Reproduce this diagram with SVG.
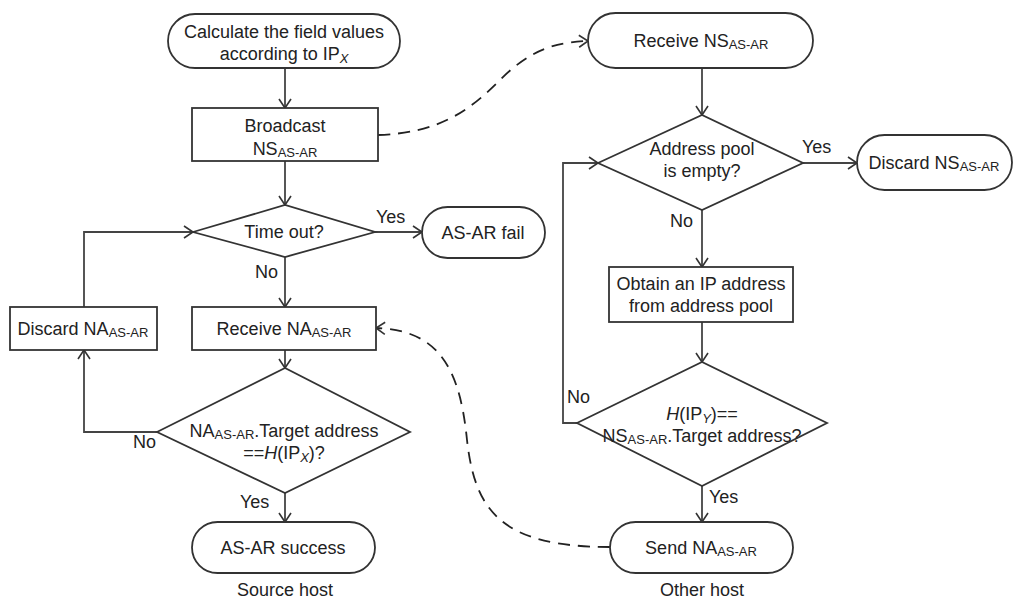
<svg xmlns="http://www.w3.org/2000/svg" width="1016" height="601" viewBox="0 0 1016 601">
<defs>
<marker id="arr" markerUnits="userSpaceOnUse" markerWidth="12" markerHeight="14" refX="10" refY="7" orient="auto">
<path d="M1,1 L10,7 L1,13" fill="none" stroke="#333" stroke-width="1.6"/>
</marker>
<style>
.s{fill:#fff;stroke:#333;stroke-width:1.8}
.c{fill:none;stroke:#444;stroke-width:1.8}
.d{fill:none;stroke:#222;stroke-width:1.8;stroke-dasharray:12,8}
text{font-family:"Liberation Sans",Arial,sans-serif;font-size:18px;fill:#222}
.m{text-anchor:middle}
.sub{font-size:13px}
</style>
</defs>
<rect width="1016" height="601" fill="#fff"/>
<g id="connectors">
<path class="c" d="M285,68 V108" marker-end="url(#arr)"/>
<path class="c" d="M285,161 V205" marker-end="url(#arr)"/>
<path class="c" d="M375,232 H422" marker-end="url(#arr)"/>
<path class="c" d="M285,257 V307" marker-end="url(#arr)"/>
<path class="c" d="M285,350 V368" marker-end="url(#arr)"/>
<path class="c" d="M157,432 H84 V350" marker-end="url(#arr)"/>
<path class="c" d="M84,307 V232 H193" marker-end="url(#arr)"/>
<path class="c" d="M285,493 V522" marker-end="url(#arr)"/>
<path class="c" d="M702,68 V115" marker-end="url(#arr)"/>
<path class="c" d="M803,163 H857" marker-end="url(#arr)"/>
<path class="c" d="M702,210 V267" marker-end="url(#arr)"/>
<path class="c" d="M702,322 V362" marker-end="url(#arr)"/>
<path class="c" d="M577,423 H563 V163 H598" marker-end="url(#arr)"/>
<path class="c" d="M702,486 V522" marker-end="url(#arr)"/>
<path class="d" d="M378,135 C440,133 470,110 500,80 C530,50 555,42 588,41" marker-end="url(#arr)"/>
<path class="d" d="M610,547 C500,547 475,510 467,440 C460,370 440,330 376,328" marker-end="url(#arr)"/>
</g>
<g id="start">
<rect class="s" x="168" y="14" width="232" height="54" rx="27"/>
<text class="m" x="284" y="38">Calculate the field values</text>
<text class="m" x="284" y="60">according to IP<tspan class="sub" font-style="italic" dy="3">X</tspan></text>
</g>
<g id="broadcast">
<rect class="s" x="192" y="108" width="186" height="53"/>
<text class="m" x="285" y="132">Broadcast</text>
<text class="m" x="285" y="155">NS<tspan class="sub" dy="2">AS-AR</tspan></text>
</g>
<g id="timeout">
<polygon class="s" points="193,232 285,205 375,232 285,257"/>
<text class="m" x="284" y="238">Time out?</text>
</g>
<g id="fail">
<rect class="s" x="422" y="207" width="123" height="51" rx="25.5"/>
<text class="m" x="483" y="239">AS-AR fail</text>
</g>
<g id="receiveNA">
<rect class="s" x="192" y="307" width="184" height="43"/>
<text class="m" x="284" y="335">Receive NA<tspan class="sub" dy="2">AS-AR</tspan></text>
</g>
<g id="discardNA">
<rect class="s" x="10" y="307" width="147" height="43"/>
<text class="m" x="83" y="335">Discard NA<tspan class="sub" dy="2">AS-AR</tspan></text>
</g>
<g id="check1">
<polygon class="s" points="157,432 285,368 410,432 285,493"/>
<text class="m" x="284" y="437">NA<tspan class="sub" dy="2">AS-AR</tspan><tspan dy="-2">.Target address</tspan></text>
<text class="m" x="284" y="459">==<tspan font-style="italic">H</tspan>(IP<tspan class="sub" font-style="italic" dy="3">X</tspan><tspan dy="-3">)?</tspan></text>
</g>
<g id="success">
<rect class="s" x="192" y="522" width="183" height="51" rx="25.5"/>
<text class="m" x="283" y="554">AS-AR success</text>
</g>
<g id="receiveNS">
<rect class="s" x="588" y="13" width="225" height="55" rx="27.5"/>
<text class="m" x="701" y="47">Receive NS<tspan class="sub" dy="2">AS-AR</tspan></text>
</g>
<g id="pool">
<polygon class="s" points="598,163 702,115 803,163 702,210"/>
<text class="m" x="702" y="155">Address pool</text>
<text class="m" x="702" y="177">is empty?</text>
</g>
<g id="discardNS">
<rect class="s" x="857" y="135" width="155" height="55" rx="27.5"/>
<text class="m" x="934" y="169">Discard NS<tspan class="sub" dy="2">AS-AR</tspan></text>
</g>
<g id="obtain">
<rect class="s" x="609" y="267" width="184" height="55"/>
<text class="m" x="701" y="290">Obtain an IP address</text>
<text class="m" x="701" y="312">from address pool</text>
</g>
<g id="check2">
<polygon class="s" points="577,423 702,362 827,423 702,486"/>
<text class="m" x="702" y="420"><tspan font-style="italic">H</tspan>(IP<tspan class="sub" font-style="italic" dy="3">Y</tspan><tspan dy="-3">)==</tspan></text>
<text class="m" x="702" y="442">NS<tspan class="sub" dy="2">AS-AR</tspan><tspan dy="-2">.Target address?</tspan></text>
</g>
<g id="sendNA">
<rect class="s" x="610" y="522" width="183" height="51" rx="25.5"/>
<text class="m" x="701" y="554">Send NA<tspan class="sub" dy="2">AS-AR</tspan></text>
</g>
<g id="labels">
<text x="376" y="223">Yes</text>
<text x="255" y="278">No</text>
<text x="133" y="448">No</text>
<text x="240" y="508">Yes</text>
<text x="802" y="153">Yes</text>
<text x="670" y="227">No</text>
<text x="567" y="403">No</text>
<text x="709" y="503">Yes</text>
<text class="m" x="285" y="596">Source host</text>
<text class="m" x="702" y="596">Other host</text>
</g>
</svg>
